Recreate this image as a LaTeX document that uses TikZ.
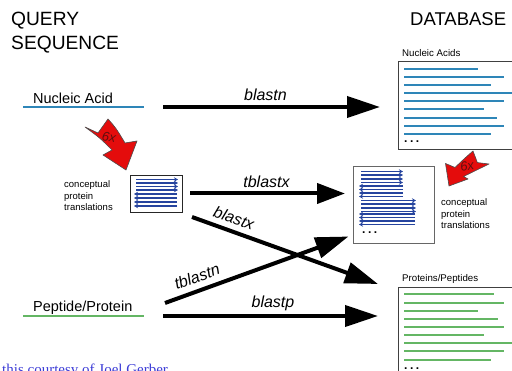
\documentclass[tikz,border=0pt]{standalone}
\usepackage{fontspec}
\setmainfont{Liberation Sans}
\newfontfamily\creditfont{Liberation Serif}
\usetikzlibrary{arrows.meta,calc}

\definecolor{nablue}{RGB}{46,134,184}
\definecolor{pgreen}{RGB}{100,182,100}
\definecolor{navy}{RGB}{38,68,158}
\definecolor{redfill}{RGB}{228,12,12}
\definecolor{darkred}{RGB}{95,15,15}
\definecolor{creditblue}{RGB}{60,60,215}

\tikzset{
 title/.style={font=\fontsize{19.2}{22}\selectfont, inner sep=0, anchor=base west},
 qlabel/.style={font=\fontsize{14.5}{16}\selectfont, inner sep=0, anchor=base west},
 tool/.style={font=\fontsize{16}{18}\selectfont\itshape, inner sep=0, anchor=base},
 dblabel/.style={font=\fontsize{9.7}{11}\selectfont, inner sep=0, anchor=base west},
 smalltext/.style={font=\fontsize{9.5}{11.7}\selectfont, inner sep=0, align=left, anchor=north west},
 dotsstyle/.style={font=\fontsize{12}{12}\selectfont\bfseries, inner sep=0, anchor=base west},
 bigarrow/.style={line width=4pt, -{Triangle[length=33pt,width=21pt]}},
 midarrow/.style={line width=4pt, -{Triangle[length=28pt,width=20pt]}},
 dbbox/.style={draw=black!75, line width=1.2pt, fill=white, inner sep=0, anchor=north west},
 naline/.style={nablue, line width=1.9pt},
 ppline/.style={pgreen, line width=1.9pt},
 underline/.style={line width=2.6pt},
 trline/.style={navy, line width=1.3pt, -{Stealth[length=4pt,width=4.5pt]}},
 redarrow/.style={fill=redfill, draw=black!70, line width=0.6pt, line join=round},
 sixx/.style={font=\fontsize{13}{13}\selectfont\itshape, text=darkred, inner sep=0},
}

\begin{document}
\begin{tikzpicture}[x=1pt,y=-1pt]
\useasboundingbox (0,0) rectangle (512,371);
\fill[white] (0,0) rectangle (512,371);

% titles
\node[title] (q1) at (11,26) {QUERY};
\node[title] (q2) at (11,49.5) {SEQUENCE};
\node[title, font=\fontsize{18.5}{22}\selectfont] (db) at (410,26) {DATABASE};

% query sequences
\node[qlabel] (na) at (33,104) {Nucleic Acid};
\coordinate (naL) at (23,107);
\coordinate (naR) at (144,107);
\draw[naline, underline] (naL) -- (naR);

\node[qlabel] (pp) at (33,312) {Peptide/Protein};
\coordinate (ppL) at (23,316);
\coordinate (ppR) at (144,316);
\draw[ppline, underline] (ppL) -- (ppR);

% database boxes
\node[dbbox, minimum width=130pt, minimum height=88pt] (ndb) at (398,61) {};
\node[dblabel] (ndbl) at (402,57) {Nucleic Acids};
\foreach \y/\e in {69/478, 77/504, 85/491, 93/514, 101/504, 109/484, 118/497, 126/504, 134/491}
  \draw[naline] (404,\y) -- (\e,\y);
\node[dotsstyle] (ndots) at (404,143) {.\kern2.5pt.\kern2.5pt.};

\node[dbbox, minimum width=130pt, minimum height=100pt] (pdb) at (398,287) {};
\node[dblabel] (pdbl) at (402,282) {Proteins/Peptides};
\foreach \y/\e in {294/494, 303/504, 311/478, 319/498, 327/504, 335/484, 343/514, 351/504, 360/491}
  \draw[ppline] (404,\y) -- (\e,\y);
\node[dotsstyle] (pdots) at (404,370) {.\kern2.5pt.\kern2.5pt.};

% translated database box
\node[dbbox, draw=black!60, line width=1pt, minimum width=81pt, minimum height=77pt] (tdb) at (353,166) {};
\foreach \y in {171.5,175,179,182.5} \draw[trline] (361,\y) -- (403,\y);
\foreach \y in {186,189.5,193,196.5} \draw[trline] (403,\y) -- (359,\y);
\foreach \y in {200.5,204,208,211.5} \draw[trline] (361,\y) -- (416,\y);
\foreach \y in {214,217.5,221,224.5} \draw[trline] (415,\y) -- (359,\y);
\node[dotsstyle] (tdots) at (362,234) {.\kern2.5pt.\kern2.5pt.};
\node[smalltext] (ctr) at (441,198.5) {conceptual\\protein\\translations};

% query translation box
\node[dbbox, draw=black!85, line width=1.4pt, minimum width=52pt, minimum height=37pt] (sdb) at (130,175) {};
\foreach \y in {179.5,183,186.5,190} \draw[trline] (136,\y) -- (178,\y);
\foreach \y in {194,198,202,206} \draw[trline] (177,\y) -- (134,\y);
\node[smalltext] (ctl) at (64,180.5) {conceptual\\protein\\translations};

% big arrows
\coordinate (bnS) at (163,107);
\coordinate (bnE) at (380,107);
\draw[bigarrow] (bnS) -- (bnE);
\node[tool] (bnl) at (265.5,101) {blastn};

\coordinate (txS) at (190,193.5);
\coordinate (txE) at (345,193.5);
\draw[midarrow] (txS) -- (txE);
\node[tool] (txl) at (266.5,188) {tblastx};

\coordinate (bxS) at (192,217);
\coordinate (bxE) at (378,284);
\draw[bigarrow] (bxS) -- (bxE);
\node[tool, anchor=center, rotate=-19.8] (bxl) at (234,218) {blastx};

\coordinate (tnS) at (165,303);
\coordinate (tnE) at (348.5,236.5);
\draw[bigarrow] (tnS) -- (tnE);
\node[tool, anchor=center, rotate=20] (tnl) at (197,276.5) {tblastn};

\coordinate (bpS) at (163,316);
\coordinate (bpE) at (378,316);
\draw[bigarrow] (bpS) -- (bpE);
\node[tool] (bpl) at (273,308) {blastp};

% red 6x arrows
\filldraw[redarrow] (85,127) -- (98,133) -- (108,119) .. controls (116,128) .. (125,143) -- (137,141)
  -- (126,170) -- (103,155) -- (112,150) .. controls (100,138) .. cycle;
\node[sixx, rotate=-10] (six1) at (109,137) {6x};

\filldraw[redarrow] (489,164) -- (477.4,162.6) -- (473,151) .. controls (465,158) .. (455,167.5) -- (445.5,163.5)
  -- (449,186) -- (468,179) -- (463.5,176.5) .. controls (476,170) .. cycle;
\node[sixx, rotate=10] (six2) at (467,166) {6x};

% credit line (cut at the bottom edge)
\node[font=\creditfont\fontsize{15}{16}\selectfont, text=creditblue, inner sep=0, anchor=base west] (credit) at (2,375) {this courtesy of Joel Gerber};
\end{tikzpicture}
\end{document}
